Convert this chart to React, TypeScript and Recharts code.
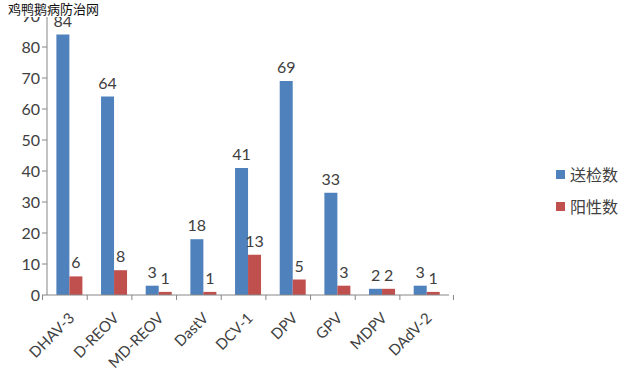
import { BarChart, Bar, XAxis, YAxis, LabelList, Legend } from 'recharts';

const categories = ['DHAV-3', 'D-REOV', 'MD-REOV', 'DastV', 'DCV-1', 'DPV', 'GPV', 'MDPV', 'DAdV-2'];
const submitted = [84, 64, 3, 18, 41, 69, 33, 2, 3];
const positive = [6, 8, 1, 1, 13, 5, 3, 2, 1];
const yTicks = [0, 10, 20, 30, 40, 50, 60, 70, 80, 90];

const seriesNames = { submitted: '送检数', positive: '阳性数' };
const colors = { submitted: '#4F81BD', positive: '#C0504D' };

const FONT = 'Lato, "Noto Sans CJK SC", sans-serif';
const AXIS = '#868686';
const TEXT = '#404040';

const data = categories.map((name, i) => ({
  name,
  submitted: submitted[i],
  positive: positive[i],
}));

const BAND = (529 - 47) / categories.length;

function CategoryTick(props: any) {
  const { x, y, payload, index } = props;
  const left = x - BAND / 2;
  return (
    <g>
      <line x1={left} y1={y - 8} x2={left} y2={y - 3} stroke={AXIS} />
      {index === categories.length - 1 && (
        <line x1={x + BAND / 2} y1={y - 8} x2={x + BAND / 2} y2={y - 3} stroke={AXIS} />
      )}
      <text
        x={0}
        y={0}
        transform={`translate(${x + 6},${y + 16}) rotate(-45)`}
        textAnchor="end"
        fontSize={15}
        fill={TEXT}
        fontFamily={FONT}
      >
        {payload.value}
      </text>
    </g>
  );
}

function LegendBox() {
  const rows = [
    { key: 'submitted', label: seriesNames.submitted, color: colors.submitted },
    { key: 'positive', label: seriesNames.positive, color: colors.positive },
  ];
  return (
    <div style={{ fontFamily: FONT, fontSize: 16, color: TEXT }}>
      {rows.map((r) => (
        <div key={r.key} style={{ display: 'flex', alignItems: 'center', height: 32 }}>
          <span style={{ width: 9, height: 9, background: r.color, marginRight: 5, display: 'inline-block' }} />
          {r.label}
        </div>
      ))}
    </div>
  );
}

export default function App() {
  return (
    <div style={{ position: 'absolute', left: 0, top: 0, width: 632, height: 371, background: '#fff' }}>
      <BarChart
        width={632}
        height={371}
        data={data}
        margin={{ top: 16, right: 103, left: 0, bottom: 0 }}
        barCategoryGap="21%"
        barGap={0}
      >
        <XAxis
          dataKey="name"
          height={76}
          stroke={AXIS}
          tickLine={false}
          interval={0}
          tick={<CategoryTick />}
        />
        <YAxis
          width={47}
          domain={[0, 90]}
          ticks={yTicks}
          interval={0}
          stroke={AXIS}
          tickSize={5}
          tick={{ fill: TEXT, fontSize: 16, fontFamily: FONT }}
        />
        <Legend
          layout="vertical"
          verticalAlign="top"
          align="right"
          content={<LegendBox />}
          wrapperStyle={{ left: 556, top: 158, width: 80 }}
        />
        <Bar dataKey="submitted" name={seriesNames.submitted} fill={colors.submitted} isAnimationActive={false}>
          <LabelList dataKey="submitted" position="top" offset={8} fill={TEXT} fontSize={16} fontFamily={FONT} />
        </Bar>
        <Bar dataKey="positive" name={seriesNames.positive} fill={colors.positive} isAnimationActive={false}>
          <LabelList dataKey="positive" position="top" offset={8} fill={TEXT} fontSize={16} fontFamily={FONT} />
        </Bar>
      </BarChart>
      <div
        style={{
          position: 'absolute',
          left: 6,
          top: 0,
          background: '#fff',
          fontFamily: '"Noto Sans CJK SC", sans-serif',
          fontSize: 13,
          lineHeight: '15px',
          color: '#111',
          padding: '1px 2px',
        }}
      >
        鸡鸭鹅病防治网
      </div>
    </div>
  );
}
